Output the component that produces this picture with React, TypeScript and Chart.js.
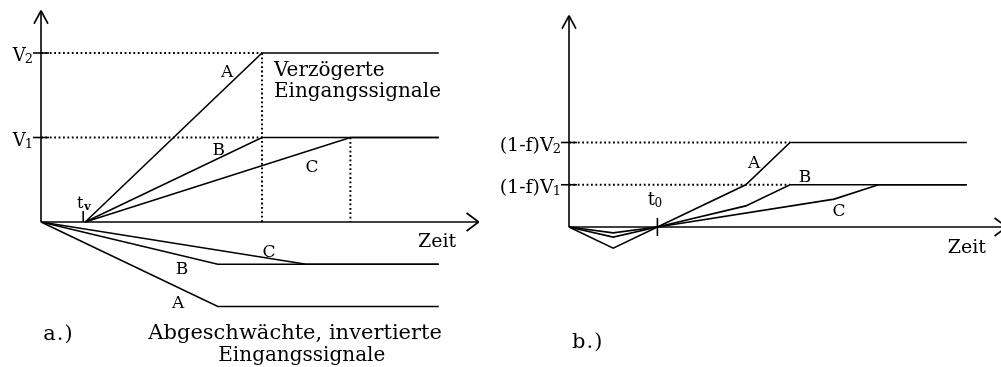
import React, { useEffect, useRef } from 'react';
import { Chart, registerables } from 'chart.js';

Chart.register(...registerables);

// ---------- Panel a.) (time units; voltage units with V1 = 1, V2 = 2) ----------
const LEVELS_A = [2, 1];              // V2, V1
const LEVEL_SUBS_A = ['2', '1'];
const T_DELAY = 1;                    // t_v

// delayed input signals
const DEL_TIME_A = [1, 5, 9];
const DEL_VOLT_A = [0, 2, 2];
const DEL_TIME_B = [1, 5, 9];
const DEL_VOLT_B = [0, 1, 1];
const DEL_TIME_C = [1, 7, 9];
const DEL_VOLT_C = [0, 1, 1];

// attenuated, inverted input signals
const INV_TIME_A = [0, 4, 9];
const INV_VOLT_A = [0, -1, -1];
const INV_TIME_B = [0, 4, 9];
const INV_VOLT_B = [0, -0.5, -0.5];
const INV_TIME_C = [0, 6, 9];
const INV_VOLT_C = [0, -0.5, -0.5];

// dotted guides of panel a
const GUIDE_H_TIME_A = [0, 5];        // horizontal guides to V2 and V1
const GUIDE_V_TIME_A = [5, 7];        // vertical guides
const GUIDE_V_LEVEL_A = [2, 1];

// ---------- Panel b.) summed signals ((1-f)V1 = 0.5, (1-f)V2 = 1) ----------
const LEVELS_B = [1, 0.5];
const LEVEL_SUBS_B = ['2', '1'];
const T_ZERO = 2;                     // t_0

const SUM_TIME_A = [0, 1, 2, 4, 5, 9];
const SUM_VOLT_A = [0, -0.25, 0, 0.5, 1, 1];
const SUM_TIME_B = [0, 1, 2, 4, 5, 9];
const SUM_VOLT_B = [0, -0.12, 0, 0.25, 0.5, 0.5];
const SUM_TIME_C = [0, 1, 2, 6, 7, 9];
const SUM_VOLT_C = [0, -0.07, 0, 0.33, 0.5, 0.5];

const GUIDE_H_TIME_B = [0, 5];

const AXIS_T_END = 9.9;
const AXIS_V_TOP = 2.5;

// ---------- layout ----------
const W = 1001;
const H = 367;
const PX_PER_T = 44.2;
const PX_PER_V = 84.5;
const ORIGIN_A = { x: 41, y: 222 };
const ORIGIN_B = { x: 569, y: 227 };

const FONT = '"DejaVu Serif", "Liberation Serif", serif';

type Note = { text: string; t: number; v: number; size: number; align: CanvasTextAlign };
const NOTES_A: Note[] = [
  { text: 'A', t: 4.21, v: 1.716, size: 17, align: 'center' },
  { text: 'B', t: 4.02, v: 0.793, size: 17, align: 'center' },
  { text: 'C', t: 6.13, v: 0.592, size: 17, align: 'center' },
  { text: 'C', t: 5.16, v: -0.414, size: 17, align: 'center' },
  { text: 'B', t: 3.19, v: -0.615, size: 17, align: 'center' },
  { text: 'A', t: 3.10, v: -1.018, size: 17, align: 'center' },
  { text: 'Zeit', t: 8.96, v: -0.296, size: 19, align: 'center' },
  { text: 'Verzögerte', t: 5.27, v: 1.728, size: 20, align: 'left' },
  { text: 'Eingangssignale', t: 5.27, v: 1.479, size: 20, align: 'left' },
  { text: 'Abgeschwächte, invertierte', t: 5.75, v: -1.385, size: 21, align: 'center' },
  { text: 'Eingangssignale', t: 5.90, v: -1.645, size: 20, align: 'center' },
  { text: 'a.)', t: 0.05, v: -1.396, size: 21, align: 'left' },
];
const NOTES_B: Note[] = [
  { text: 'A', t: 4.19, v: 0.698, size: 17, align: 'center' },
  { text: 'B', t: 5.34, v: 0.533, size: 17, align: 'center' },
  { text: 'C', t: 6.11, v: 0.130, size: 17, align: 'center' },
  { text: 'Zeit', t: 9.0, v: -0.308, size: 19, align: 'center' },
  { text: 'b.)', t: 0.07, v: -1.432, size: 21, align: 'left' },
];

const pts = (t: number[], v: number[]) => t.map((x, i) => ({ x, y: v[i] }));

function ds(data: { x: number; y: number }[], panel: 'a' | 'b', dotted = false) {
  return {
    data,
    xAxisID: panel === 'a' ? 'xa' : 'xb',
    yAxisID: panel === 'a' ? 'ya' : 'yb',
    showLine: true,
    borderColor: '#000',
    borderWidth: dotted ? 2 : 1.6,
    borderDash: dotted ? [1.8, 2.6] : [],
    pointRadius: 0,
    pointHoverRadius: 0,
    fill: false,
    tension: 0,
  };
}

function range(origin: { x: number; y: number }) {
  const xmin = -origin.x / PX_PER_T;
  const ymax = origin.y / PX_PER_V;
  return { xmin, xmax: xmin + W / PX_PER_T, ymax, ymin: ymax - H / PX_PER_V };
}

const overlay = {
  id: 'overlay',
  afterDatasetsDraw(chart: any) {
    const ctx: CanvasRenderingContext2D = chart.ctx;
    const s = chart.scales;
    const px = (p: 'a' | 'b', t: number) => s[p === 'a' ? 'xa' : 'xb'].getPixelForValue(t);
    const py = (p: 'a' | 'b', v: number) => s[p === 'a' ? 'ya' : 'yb'].getPixelForValue(v);
    ctx.save();
    ctx.strokeStyle = '#000';
    ctx.fillStyle = '#000';
    ctx.lineWidth = 1.6;
    const seg = (x1: number, y1: number, x2: number, y2: number) => {
      ctx.beginPath();
      ctx.moveTo(x1, y1);
      ctx.lineTo(x2, y2);
      ctx.stroke();
    };
    (['a', 'b'] as const).forEach((p) => {
      const ox = px(p, 0);
      const oy = py(p, 0);
      // arrowheads
      const ty = py(p, AXIS_V_TOP);
      seg(ox - 7, ty + 13, ox, ty);
      seg(ox, ty, ox + 7, ty + 13);
      const rx = px(p, AXIS_T_END);
      seg(rx - 12, oy - 9, rx, oy);
      seg(rx, oy, rx - 12, oy + 9);
      // level ticks & labels
      const levels = p === 'a' ? LEVELS_A : LEVELS_B;
      const subs = p === 'a' ? LEVEL_SUBS_A : LEVEL_SUBS_B;
      const main = p === 'a' ? 'V' : '(1-f)V';
      levels.forEach((lv, i) => {
        const y = py(p, lv);
        seg(ox - 8, y, ox + 8, y);
        const right = ox - 8;
        ctx.font = `13px ${FONT}`;
        const sw = ctx.measureText(subs[i]).width;
        ctx.textAlign = 'right';
        ctx.textBaseline = 'alphabetic';
        ctx.font = `${p === 'a' ? 18 : 19}px ${FONT}`;
        ctx.fillText(main, right - sw + 1, y + 8);
        ctx.textAlign = 'left';
        ctx.font = `13px ${FONT}`;
        ctx.fillText(subs[i], right - sw, y + 10);
      });
      // notes
      const notes = p === 'a' ? NOTES_A : NOTES_B;
      notes.forEach((n) => {
        ctx.font = `${n.size}px ${FONT}`;
        ctx.textAlign = n.align;
        ctx.textBaseline = 'alphabetic';
        (ctx as any).letterSpacing = n.text.endsWith('.)') ? '1px' : '0px';
        ctx.fillText(n.text, px(p, n.t), py(p, n.v));
      });
      (ctx as any).letterSpacing = '0px';
    });
    // t_v tick and label
    {
      const x = px('a', T_DELAY);
      const y = py('a', 0);
      seg(x - 2, y, x - 2, y - 11);
      ctx.textAlign = 'center';
      ctx.font = `16px ${FONT}`;
      ctx.fillText('t', x - 5, y - 14);
      ctx.font = `bold 11px ${FONT}`;
      ctx.textAlign = 'left';
      ctx.fillText('v', x - 1, y - 12);
    }
    // t_0 tick and label
    {
      const x = px('b', T_ZERO);
      const y = py('b', 0);
      seg(x, y - 9, x, y + 9);
      ctx.textAlign = 'center';
      ctx.font = `18px ${FONT}`;
      ctx.fillText('t', x - 6, y - 22);
      ctx.font = `12px ${FONT}`;
      ctx.textAlign = 'left';
      ctx.fillText('0', x - 3, y - 20);
    }
    ctx.restore();
  },
};

export default function App() {
  const ref = useRef<HTMLCanvasElement>(null);
  useEffect(() => {
    const ra = range(ORIGIN_A);
    const rb = range(ORIGIN_B);
    const datasets: any[] = [
      // axes
      ds(pts([0, 0], [0, AXIS_V_TOP]), 'a'),
      ds(pts([0, AXIS_T_END], [0, 0]), 'a'),
      ds(pts([0, 0], [0, AXIS_V_TOP]), 'b'),
      ds(pts([0, AXIS_T_END], [0, 0]), 'b'),
      // panel a guides
      ...LEVELS_A.map((lv) => ds(pts(GUIDE_H_TIME_A, [lv, lv]), 'a', true)),
      ...GUIDE_V_TIME_A.map((t, i) => ds(pts([t, t], [GUIDE_V_LEVEL_A[i], 0]), 'a', true)),
      // panel a signals
      ds(pts(DEL_TIME_A, DEL_VOLT_A), 'a'),
      ds(pts(DEL_TIME_B, DEL_VOLT_B), 'a'),
      ds(pts(DEL_TIME_C, DEL_VOLT_C), 'a'),
      ds(pts(INV_TIME_A, INV_VOLT_A), 'a'),
      ds(pts(INV_TIME_B, INV_VOLT_B), 'a'),
      ds(pts(INV_TIME_C, INV_VOLT_C), 'a'),
      // panel b guides
      ...LEVELS_B.map((lv) => ds(pts(GUIDE_H_TIME_B, [lv, lv]), 'b', true)),
      // panel b signals
      ds(pts(SUM_TIME_A, SUM_VOLT_A), 'b'),
      ds(pts(SUM_TIME_B, SUM_VOLT_B), 'b'),
      ds(pts(SUM_TIME_C, SUM_VOLT_C), 'b'),
    ];
    const chart = new Chart(ref.current as HTMLCanvasElement, {
      type: 'scatter',
      data: { datasets },
      options: {
        animation: false,
        responsive: false,
        events: [],
        layout: { padding: 0 },
        plugins: { legend: { display: false }, tooltip: { enabled: false }, title: { display: false } },
        scales: {
          xa: { type: 'linear', display: false, min: ra.xmin, max: ra.xmax },
          ya: { type: 'linear', display: false, min: ra.ymin, max: ra.ymax },
          xb: { type: 'linear', display: false, min: rb.xmin, max: rb.xmax },
          yb: { type: 'linear', display: false, min: rb.ymin, max: rb.ymax },
        },
      } as any,
      plugins: [overlay],
    });
    return () => chart.destroy();
  }, []);
  return (
    <div style={{ position: 'fixed', left: 0, top: 0, width: W, height: H, background: '#fff' }}>
      <canvas ref={ref} width={W} height={H} style={{ display: 'block', width: W, height: H }} />
    </div>
  );
}
